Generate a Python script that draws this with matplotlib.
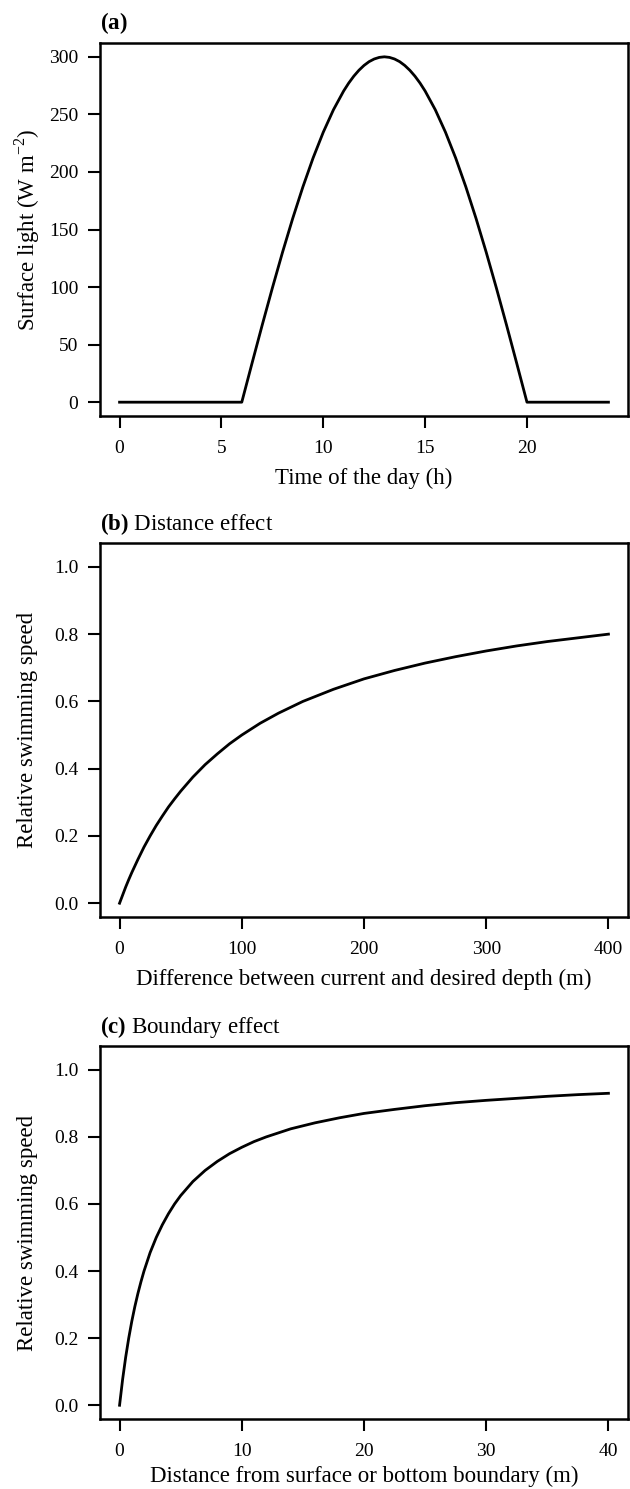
import numpy as np
import matplotlib
matplotlib.use("Agg")
import matplotlib.pyplot as plt

plt.rcParams['font.family'] = ['Liberation Serif', 'DejaVu Serif']
plt.rcParams['mathtext.fontset'] = 'custom'
plt.rcParams['mathtext.rm'] = 'Liberation Serif'
plt.rcParams['mathtext.bf'] = 'Liberation Serif:bold'

# (a) surface light over the day
hora = [0, 2, 4, 6, 6.5, 7, 7.5, 8, 8.5, 9, 9.5, 10, 10.5, 11, 11.25, 11.5, 11.75, 12,
        12.25, 12.5, 12.75, 13, 13.25, 13.5, 13.75, 14, 14.25, 14.5, 14.75, 15, 15.5,
        16, 16.5, 17, 17.5, 18, 18.5, 19, 19.5, 20, 22, 24]
luz = [0, 0, 0, 0, 33.6, 66.8, 99.1, 130.2, 159.6, 187.0, 212.1, 234.5, 254.0, 270.3,
       277.2, 283.2, 288.3, 292.5, 295.8, 298.1, 299.5, 300, 299.5, 298.1, 295.8, 292.5,
       288.3, 283.2, 277.2, 270.3, 254.0, 234.5, 212.1, 187.0, 159.6, 130.2, 99.1,
       66.8, 33.6, 0, 0, 0]

# (b) distance effect
dist = [0, 2.5, 5, 7.5, 10, 15, 20, 25, 30, 35, 40, 45, 50, 60, 70, 80, 90, 100, 115,
        130, 150, 175, 200, 225, 250, 275, 300, 325, 350, 375, 400]
vel_dist = [0, 0.024, 0.048, 0.070, 0.091, 0.130, 0.167, 0.2, 0.231, 0.259, 0.286,
            0.310, 0.333, 0.375, 0.412, 0.444, 0.474, 0.5, 0.535, 0.565, 0.6, 0.636,
            0.667, 0.692, 0.714, 0.733, 0.75, 0.765, 0.778, 0.789, 0.8]

# (c) boundary effect
borde = [0, 0.25, 0.5, 0.75, 1, 1.25, 1.5, 1.75, 2, 2.5, 3, 3.5, 4, 4.5, 5, 6, 7, 8, 9,
         10, 11, 12, 14, 16, 18, 20, 22.5, 25, 27.5, 30, 32.5, 35, 37.5, 40]
vel_borde = [0, 0.077, 0.143, 0.2, 0.25, 0.294, 0.333, 0.368, 0.4, 0.455, 0.5, 0.538,
             0.571, 0.6, 0.625, 0.667, 0.7, 0.727, 0.75, 0.769, 0.786, 0.8, 0.824,
             0.842, 0.857, 0.870, 0.882, 0.893, 0.902, 0.909, 0.915, 0.921, 0.926, 0.930]

W, H = 630.0, 1489.0
fig = plt.figure(figsize=(6.3, 14.89), dpi=100)

def caja(top, bottom):
    return fig.add_axes([100 / W, 1 - bottom / H, 528 / W, (bottom - top) / H])

def estilo(ax, xt, yt, xfmt, yfmt):
    for s in ax.spines.values():
        s.set_linewidth(1.8)
    ax.set_xticks(xt)
    ax.set_yticks(yt)
    ax.set_xticklabels([xfmt % v for v in xt])
    ax.set_yticklabels([yfmt % v for v in yt])
    ax.tick_params(direction='out', length=8.5, width=1.5, labelsize=14)
    ax.tick_params(axis='x', pad=9)
    ax.tick_params(axis='y', pad=7)

def rotulos(ax, xl, yl, titulo, ty, xly=-0.168):
    ax.set_xlabel(xl, fontsize=16.5)
    ax.set_ylabel(yl, fontsize=16.5)
    ax.xaxis.set_label_coords(0.5, xly)
    ax.yaxis.set_label_coords(-0.138, 0.5)
    ax.xaxis.label.set_va('center')
    ax.yaxis.label.set_va('center')
    ax.text(0, ty, titulo, transform=ax.transAxes, fontsize=16.5,
            ha='left', va='center')

ax1 = caja(43, 416)
ax1.plot(hora, luz, color='black', lw=2.0)
ax1.set_xlim(-0.96, 24.96)
ax1.set_ylim(-12, 312)
estilo(ax1, [0, 5, 10, 15, 20], [0, 50, 100, 150, 200, 250, 300], '%d', '%d')
rotulos(ax1, 'Time of the day (h)', r'Surface light (W m$^{-2}$)',
        r'$\mathbf{(a)}$', 1.054)

ax2 = caja(543, 917)
ax2.plot(dist, vel_dist, color='black', lw=2.0)
ax2.set_xlim(-16, 416)
ax2.set_ylim(-0.041, 1.071)
estilo(ax2, [0, 100, 200, 300, 400], [0, 0.2, 0.4, 0.6, 0.8, 1.0], '%d', '%.1f')
rotulos(ax2, 'Difference between current and desired depth (m)',
        'Relative swimming speed', r'$\mathbf{(b)}$ Distance effect', 1.05)

ax3 = caja(1046, 1419)
ax3.plot(borde, vel_borde, color='black', lw=2.0)
ax3.set_xlim(-1.6, 41.6)
ax3.set_ylim(-0.041, 1.071)
estilo(ax3, [0, 10, 20, 30, 40], [0, 0.2, 0.4, 0.6, 0.8, 1.0], '%d', '%.1f')
rotulos(ax3, 'Distance from surface or bottom boundary (m)',
        'Relative swimming speed', r'$\mathbf{(c)}$ Boundary effect', 1.05,
        xly=-0.155)

fig.savefig('out.png', dpi=100)
